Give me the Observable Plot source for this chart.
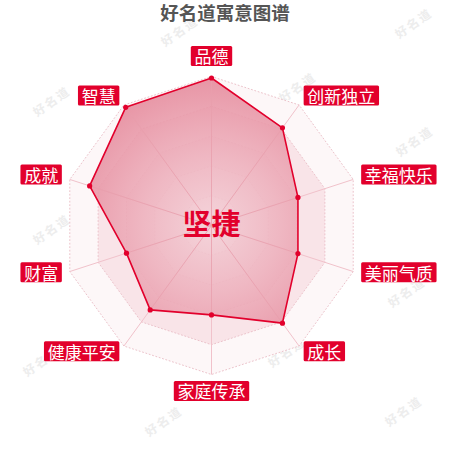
<!DOCTYPE html>
<html><head><meta charset="utf-8">
<script src="https://cdn.jsdelivr.net/npm/d3@7"></script>
<script src="https://cdn.jsdelivr.net/npm/@observablehq/plot@0.6"></script>
<style>
body{margin:0;background:#fff;width:450px;height:450px;overflow:hidden;font-family:"Noto Sans CJK SC","Noto Sans",sans-serif;position:relative;}
#title{height:22px;line-height:20px;padding-top:2px;text-align:center;font-size:18.5px;font-weight:bold;color:#555;position:relative;z-index:2;}
#chart{position:relative;z-index:1;}
#chart svg{overflow:visible;}
.wm{position:absolute;font-size:12px;color:#ededed;transform:rotate(-35deg);z-index:0;letter-spacing:2px;font-weight:bold;white-space:nowrap;}
</style></head><body>
<div id="title"></div>
<div id="chart"></div>
<script>
// ---- data ----
const title = "好名道寓意图谱";
const centerName = "坚捷";
const categories = ["品德","创新独立","幸福快乐","美丽气质","成长","家庭传承","健康平安","财富","成就","智慧"];
const values = [99, 81, 61, 61, 81, 60, 70, 60, 86, 98];
const maxValue = 100;
const levels = [20, 40, 60, 80, 100];
const levelFills = ["#fbecef", "#f8e0e5", "#f6d9df", "#f9e4e8", "#fdf7f8"];
const watermarkText = "好名道";

// ---- layout ----
document.getElementById("title").textContent = title;
const W = 450, H = 426;
const cx = 211, cy = 201, Rpx = 149;
const k = Rpx / maxValue; // px per unit
const n = categories.length;
const ang = i => i * 2 * Math.PI / n;

const rows = categories.map((c, i) => ({
  name: c, value: values[i], a: ang(i),
  x: values[i] * Math.sin(ang(i)), y: values[i] * Math.cos(ang(i)),
  ex: maxValue * Math.sin(ang(i)), ey: maxValue * Math.cos(ang(i))
}));

const ringData = levels.map(l => categories.map((c, i) => ({level: l, x: l * Math.sin(ang(i)), y: l * Math.cos(ang(i))})));

// label positions (rule based on angle)
const labels = rows.map(d => {
  const s = Math.sin(d.a), c = Math.cos(d.a);
  const vertical = Math.abs(s) < 0.05;
  const rx = (166 - 5 * Math.abs(s)) / k;
  const ry = (vertical ? 167.5 : 158) / k;
  return {name: d.name, x: s * rx, y: c * ry, anchor: vertical ? "middle" : (s > 0 ? "start" : "end")};
});

const red = "#e2002c";

const gradientMark = (index, scales) => {
  const g = d3.create("svg:defs");
  const gr = g.append("radialGradient").attr("id", "radarGrad").attr("gradientUnits", "userSpaceOnUse")
    .attr("cx", scales.x(0)).attr("cy", scales.y(0)).attr("r", scales.x(maxValue) - scales.x(0));
  gr.append("stop").attr("offset", "0%").attr("stop-color", "#f3d0d7").attr("stop-opacity", 0.85);
  gr.append("stop").attr("offset", "45%").attr("stop-color", "#eeb2be").attr("stop-opacity", 0.85);
  gr.append("stop").attr("offset", "100%").attr("stop-color", "#e5899b").attr("stop-opacity", 0.9);
  return g.node();
};

const marks = [gradientMark];
// split areas (outer to inner)
for (let j = levels.length - 1; j >= 0; j--) {
  marks.push(Plot.line(ringData[j], {x: "x", y: "y", curve: "linear-closed", fill: levelFills[j], stroke: "none"}));
}
// split lines
for (let j = 0; j < levels.length; j++) {
  marks.push(Plot.line(ringData[j], {x: "x", y: "y", curve: "linear-closed", stroke: "#ecc3cb", strokeWidth: 1, strokeDasharray: "1,2.5"}));
}
// axis lines
marks.push(Plot.link(rows, {x1: 0, y1: 0, x2: "ex", y2: "ey", stroke: "#f1c2cb", strokeWidth: 1}));
// data polygon
marks.push(Plot.line(rows, {x: "x", y: "y", curve: "linear-closed", fill: "url(#radarGrad)", stroke: "none"}));
marks.push(Plot.link(rows, {x1: 0, y1: 0, x2: "x", y2: "y", stroke: "#e9a0ae", strokeWidth: 1, strokeOpacity: 0.8}));
marks.push(Plot.line(rows, {x: "x", y: "y", curve: "linear-closed", stroke: red, strokeWidth: 1.6}));
marks.push(Plot.dot(rows, {x: "x", y: "y", r: 2.6, fill: red}));
// center name
marks.push(Plot.text([centerName], {x: () => 0, y: () => 0, text: d => d, fill: red, fontSize: 29, fontWeight: "bold", fontFamily: "Noto Sans CJK SC"}));
// axis names
for (const anchor of ["start", "middle", "end"]) {
  marks.push(Plot.text(labels.filter(d => d.anchor === anchor), {x: "x", y: "y", text: "name", textAnchor: anchor, fill: "#fff", fontSize: 17, fontFamily: "Noto Sans CJK SC", className: "axisname"}));
}

const chart = Plot.plot({
  width: W, height: H, margin: 0,
  x: {domain: [-cx / k, (W - cx) / k], range: [0, W], axis: null},
  y: {domain: [-(H - cy) / k, cy / k], range: [H, 0], axis: null},
  style: {background: "transparent", overflow: "visible"},
  marks
});
document.getElementById("chart").appendChild(chart);

// label boxes behind the axis names
chart.querySelectorAll("g.axisname text").forEach(t => {
  const b = t.getBBox();
  const mid = b.y + b.height / 2;
  const r = document.createElementNS("http://www.w3.org/2000/svg", "rect");
  r.setAttribute("x", b.x - 3.7);
  r.setAttribute("width", b.width + 7.4);
  r.setAttribute("y", mid - 10);
  r.setAttribute("height", 20);
  r.setAttribute("rx", 1.5);
  r.setAttribute("fill", red);
  const tr = t.getAttribute("transform");
  if (tr) r.setAttribute("transform", tr);
  t.parentNode.insertBefore(r, t);
});

// faint watermarks (decoration)
const wmSpots = [[158,22],[392,14],[30,92],[276,78],[393,132],[30,220],[265,343],[20,352],[142,412],[382,402],[385,283]];
wmSpots.forEach(([l, t]) => {
  const d = document.createElement("div");
  d.className = "wm"; d.textContent = watermarkText;
  d.style.left = l + "px"; d.style.top = t + "px";
  document.body.appendChild(d);
});
</script>
</body></html>
